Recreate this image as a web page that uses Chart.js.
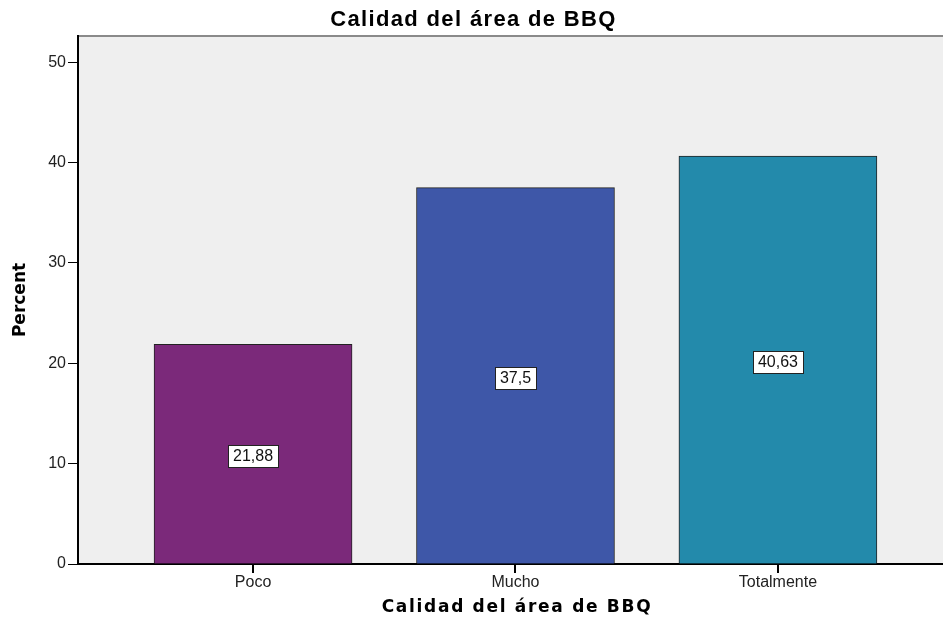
<!DOCTYPE html>
<html>
<head>
<meta charset="utf-8">
<title>Calidad del área de BBQ</title>
<script src="https://cdn.jsdelivr.net/npm/chart.js"></script>
<style>
  html, body { margin: 0; padding: 0; background: #fff; }
  #wrap { width: 943px; height: 625px; }
</style>
</head>
<body>
<div id="wrap"><canvas id="myChart" width="943" height="625"></canvas></div>
<script>
const chartTitle = 'Calidad del área de BBQ';
const xTitle = 'Calidad del área de BBQ';
const yTitle = 'Percent';
const categories = ['Poco', 'Mucho', 'Totalmente'];
const percents = [21.88, 37.5, 40.63];
const yTicks = [0, 10, 20, 30, 40, 50];
const barColors = ['#7b297a', '#3e57a8', '#238aab'];

// percent labels use a decimal comma
const fmt = v => String(v).replace('.', ',');

const plotBackground = {
  id: 'plotBackground',
  beforeDraw(chart) {
    const { ctx, chartArea: a } = chart;
    ctx.save();
    ctx.fillStyle = '#fff';
    ctx.fillRect(0, 0, chart.width, chart.height);
    ctx.fillStyle = '#efefef';
    ctx.fillRect(a.left, a.top, a.right - a.left, a.bottom - a.top);
    ctx.strokeStyle = '#8a8a8a';
    ctx.lineWidth = 2;
    ctx.beginPath();
    ctx.moveTo(a.left, a.top);
    ctx.lineTo(a.right, a.top);
    ctx.stroke();
    ctx.restore();
  }
};

// value boxes in the middle of each bar, plus the category tick marks
const barLabels = {
  id: 'barLabels',
  afterDatasetsDraw(chart) {
    const { ctx } = chart;
    const meta = chart.getDatasetMeta(0);
    ctx.save();
    ctx.font = '16px "Liberation Sans", Arial, sans-serif';
    ctx.textAlign = 'center';
    ctx.textBaseline = 'middle';
    meta.data.forEach((bar, i) => {
      const { x, y, base } = bar.getProps(['x', 'y', 'base'], true);
      ctx.fillStyle = '#000';
      ctx.fillRect(Math.round(x) - 1, Math.round(base) + 1, 2, 8);

      const text = fmt(percents[i]);
      const cy = (y + base) / 2 + 2;
      const w = ctx.measureText(text).width + 10;
      const h = 22;
      ctx.fillStyle = '#fff';
      ctx.fillRect(Math.round(x - w / 2), Math.round(cy - h / 2), Math.round(w), h);
      ctx.strokeStyle = '#222';
      ctx.lineWidth = 1;
      ctx.strokeRect(Math.round(x - w / 2) + 0.5, Math.round(cy - h / 2) + 0.5, Math.round(w), h);
      ctx.fillStyle = '#111';
      ctx.fillText(text, x, cy + 1);
    });
    ctx.restore();
  }
};

// titles are drawn by hand so they can be letter-spaced
const titles = {
  id: 'titles',
  afterDraw(chart) {
    const { ctx, chartArea: a } = chart;
    ctx.save();
    ctx.fillStyle = '#000';
    ctx.textAlign = 'center';
    ctx.textBaseline = 'alphabetic';

    ctx.font = 'bold 22px "Liberation Sans", Arial, sans-serif';
    ctx.letterSpacing = '1.35px';
    ctx.fillText(chartTitle, chart.width / 2 + 2, 26);

    ctx.font = 'bold 17px "DejaVu Sans", sans-serif';
    ctx.letterSpacing = '1.7px';
    ctx.fillText(xTitle, 517, 612);

    ctx.letterSpacing = '0px';
    ctx.translate(25, (a.top + a.bottom) / 2);
    ctx.rotate(-Math.PI / 2);
    ctx.fillText(yTitle, 0, 0);
    ctx.restore();
  }
};

const ctx = document.getElementById('myChart').getContext('2d');
const myChart = new Chart(ctx, {
  type: 'bar',
  data: {
    datasets: [{
      label: yTitle,
      data: categories.map((c, i) => ({ x: i, y: percents[i] })),
      backgroundColor: barColors,
      borderColor: '#222',
      borderWidth: 1,
      barThickness: 198
    }]
  },
  options: {
    responsive: false,
    animation: false,
    events: [],
    layout: { padding: { top: 36, left: 0, right: 0, bottom: 0 } },
    plugins: {
      legend: { display: false },
      tooltip: { enabled: false },
      title: { display: false }
    },
    scales: {
      x: {
        type: 'linear',
        offset: false,
        min: -0.667,
        max: 2.629,
        afterFit: s => { s.height = 61; },
        afterBuildTicks: s => { s.ticks = categories.map((c, i) => ({ value: i })); },
        grid: { offset: false, drawOnChartArea: false, color: '#000', tickLength: 8, lineWidth: 1 },
        border: { color: '#000', width: 2 },
        ticks: {
          callback: v => categories[v],
          color: '#222',
          padding: 1,
          maxRotation: 0,
          font: { family: '"Liberation Sans", Arial, sans-serif', size: 16 }
        }
      },
      y: {
        min: 0,
        max: 52.6,
        afterFit: s => { s.width = 78; },
        afterBuildTicks: s => { s.ticks = yTicks.map(v => ({ value: v })); },
        grid: { drawOnChartArea: false, color: '#000', tickLength: 10, lineWidth: 1 },
        border: { color: '#000', width: 2 },
        ticks: {
          color: '#222',
          padding: 2,
          font: { family: '"Liberation Sans", Arial, sans-serif', size: 16 }
        }
      }
    }
  },
  plugins: [plotBackground, barLabels, titles]
});
</script>
</body>
</html>
